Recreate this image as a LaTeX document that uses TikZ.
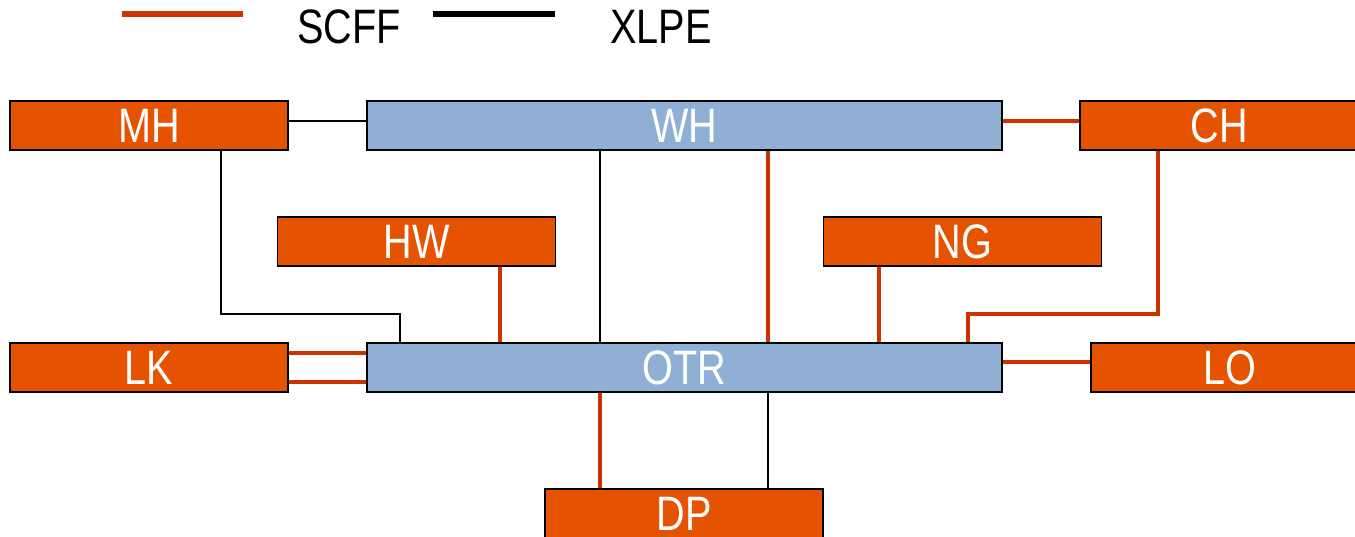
\documentclass[tikz,border=0pt]{standalone}
\usepackage{fontspec}
\setmainfont{Liberation Sans}[FakeStretch=0.82]
\usepackage{xcolor}
\usetikzlibrary{positioning}
\definecolor{boxorange}{HTML}{E55300}
\definecolor{busblue}{HTML}{8FB0D4}
\definecolor{scffred}{HTML}{CC3300}

\begin{document}
\begin{tikzpicture}[
  x=0.02cm, y=-0.02cm,
  station/.style={draw, line width=0.9pt, fill=boxorange, text=white, minimum width=5.56cm, minimum height=0.98cm, inner sep=0pt, font=\fontsize{27.5}{30}\selectfont},
  bus/.style={station, fill=busblue, minimum width=12.7cm},
  scff/.style={draw=scffred, line width=2.7pt},
  xlpe/.style={draw=black, line width=1.1pt},
  legendtext/.style={font=\fontsize{27.5}{30}\selectfont, inner sep=0pt}
]
\useasboundingbox (0,0) rectangle (1355,537);

% legend
\coordinate (scffa) at (122,14);
\coordinate (scffb) at (243,14);
\coordinate (xlpea) at (433,14);
\coordinate (xlpeb) at (555,14);
\draw[scff, line width=3pt] (scffa) -- (scffb);
\draw[xlpe, line width=3pt] (xlpea) -- (xlpeb);
\node[legendtext] (scfflbl) at (349,27) {SCFF};
\node[legendtext] (xlpelbl) at (661,27) {XLPE};

% buses and stations
\node[bus] (WH) at (684.5,125.5) {WH};
\node[bus] (OTR) at (684.5,367.5) {OTR};
\node[station] (MH) at (149,125.5) {MH};
\node[station] (CH) at (1219,125.5) {CH};
\node[station] (HW) at (416.5,241.5) {HW};
\node[station] (NG) at (962.5,241.5) {NG};
\node[station] (LK) at (149,367.5) {LK};
\node[station] (LO) at (1230,367.5) {LO};
\node[station] (DP) at (684,513.5) {DP};

% tap positions
\coordinate (tapa) at (221,314);
\coordinate (tapb) at (400,314);
\coordinate (tapc) at (500,0);
\coordinate (tapd) at (600,0);
\coordinate (tape) at (768,0);
\coordinate (tapf) at (879,0);
\coordinate (tapg) at (968,314);
\coordinate (taph) at (1158,314);
\coordinate (rowa) at (0,121);
\coordinate (rowb) at (0,362);

% XLPE cables
\draw[xlpe] (MH.east |- rowa) -- (WH.west |- rowa);
\draw[xlpe] (MH.south -| tapa) -- (tapa) -- (tapb) -- (OTR.north -| tapb);
\draw[xlpe] (WH.south -| tapd) -- (OTR.north -| tapd);
\draw[xlpe] (OTR.south -| tape) -- (DP.north -| tape);

% SCFF cables
\draw[scff] (WH.east |- rowa) -- (CH.west |- rowa);
\draw[scff] (WH.south -| tape) -- (OTR.north -| tape);
\draw[scff] (CH.south -| taph) -- (taph) -- (tapg) -- (OTR.north -| tapg);
\draw[scff] (HW.south -| tapc) -- (OTR.north -| tapc);
\draw[scff] (NG.south -| tapf) -- (OTR.north -| tapf);
\draw[scff] ([yshift=0.29cm]LK.east) -- ([yshift=0.29cm]OTR.west);
\draw[scff] ([yshift=-0.29cm]LK.east) -- ([yshift=-0.29cm]OTR.west);
\draw[scff] (OTR.east |- rowb) -- (LO.west |- rowb);
\draw[scff] (OTR.south -| tapd) -- (DP.north -| tapd);
\end{tikzpicture}
\end{document}
